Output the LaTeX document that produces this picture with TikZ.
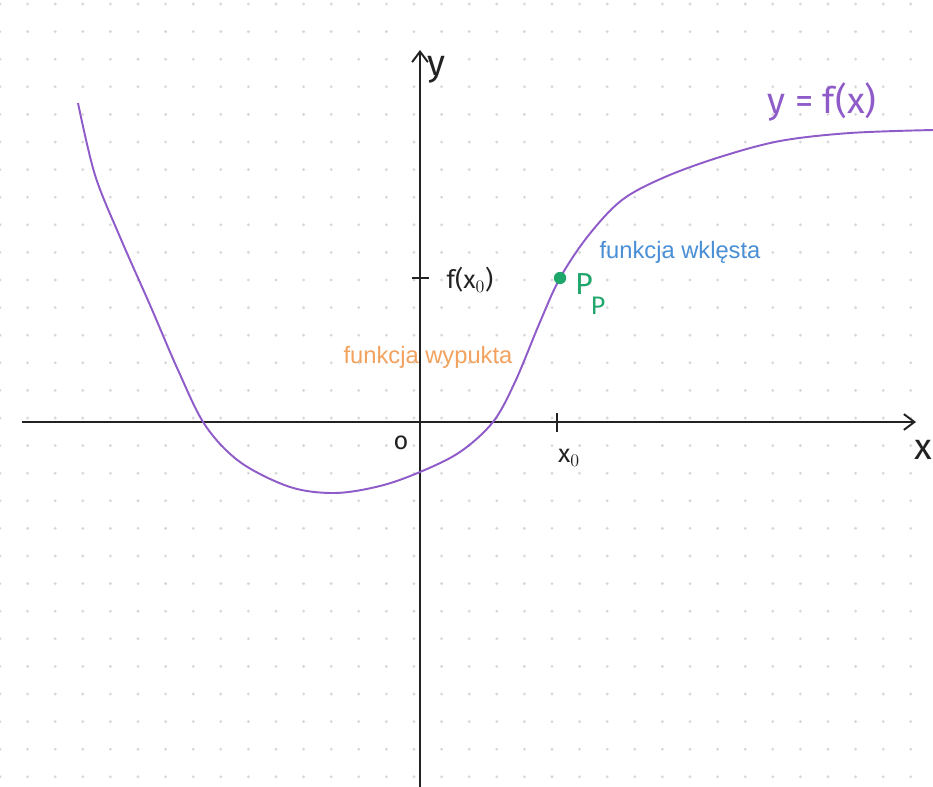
\documentclass[tikz,border=0pt]{standalone}
\usepackage{fontspec}
\setmainfont{Liberation Sans}
\newfontfamily\hand{Fira Sans}
\usetikzlibrary{arrows.meta}
\definecolor{curvec}{HTML}{8E5BC9}
\definecolor{greenc}{HTML}{1FA66A}
\definecolor{bluec}{HTML}{4A8FD6}
\definecolor{orangec}{HTML}{F2A25E}
\definecolor{dotc}{HTML}{D8D8D8}
\definecolor{axisc}{HTML}{222222}
\tikzset{
  axisline/.style={axisc, line width=1.2pt, -{Straight Barb[length=6pt,width=9pt,line width=1.1pt]}},
  tickline/.style={axisc, line width=1.1pt},
  handlbl/.style={font=\hand\Large, text=axisc, inner sep=0pt},
  smalllbl/.style={font=\fontsize{13.5}{16}\selectfont, inner sep=0pt},
}
\begin{document}
\begin{tikzpicture}[x=0.02cm, y=-0.02cm]
\useasboundingbox (0,0) rectangle (933,787);
\fill[white] (0,0) rectangle (933,787);
% dot grid
\foreach \i in {0,...,33} {
  \foreach \j in {0,...,28} {
    \fill[dotc] ({27.6*\i},{4+27.6*\j}) circle (0.9pt);
  }
}
% axes
\coordinate (xl) at (22,422);
\coordinate (xr) at (916,422);
\coordinate (yb) at (420,787);
\coordinate (yt) at (420,50);
\draw[axisline] (xl) -- (xr);
\draw[axisline] (yb) -- (yt);
% ticks
\coordinate (ty1) at (412,278);
\coordinate (ty2) at (429,278);
\draw[tickline] (ty1) -- (ty2);
\coordinate (tx1) at (557,413);
\coordinate (tx2) at (557,432);
\draw[tickline] (tx1) -- (tx2);
% curve
\draw[curvec, line width=1.1pt] plot[smooth, tension=0.55] coordinates {
 (78,103) (95,175) (120,237) (150,305) (178,370) (205,425) (240,462)
 (290,487) (335,493) (380,486) (420,472) (460,452) (493,422) (515,382)
 (540,322) (560,278) (588,236) (622,200) (665,177) (720,157) (780,141)
 (850,133) (933,130)};
% point P
\node[circle, fill=greenc, inner sep=0pt, minimum size=7pt] (P) at (560,278) {};
\node[font=\hand\LARGE, text=greenc, inner sep=0pt] (Plbl) at (584,284) {P};
\node[font=\hand\Large, text=greenc, inner sep=0pt] (Psub) at (598,306) {P};
% labels
\node[handlbl, font=\hand\huge] (ylbl) at (436,70) {y};
\node[handlbl] (fx0) at (470,280) {f(x$_0$)};
\node[handlbl] (olbl) at (401,443) {o};
\node[handlbl] (x0) at (569,458) {x$_0$};
\node[handlbl, font=\hand\huge] (xlbl) at (923,450) {x};
\node[font=\hand\huge, text=curvec, inner sep=0pt] (fxl) at (822,102) {y = f(x)};
\node[smalllbl, text=bluec] (wkl) at (680,252) {funkcja wklęsta};
\node[smalllbl, text=orangec] (wyp) at (428,357) {funkcja wypukta};
\end{tikzpicture}
\end{document}
